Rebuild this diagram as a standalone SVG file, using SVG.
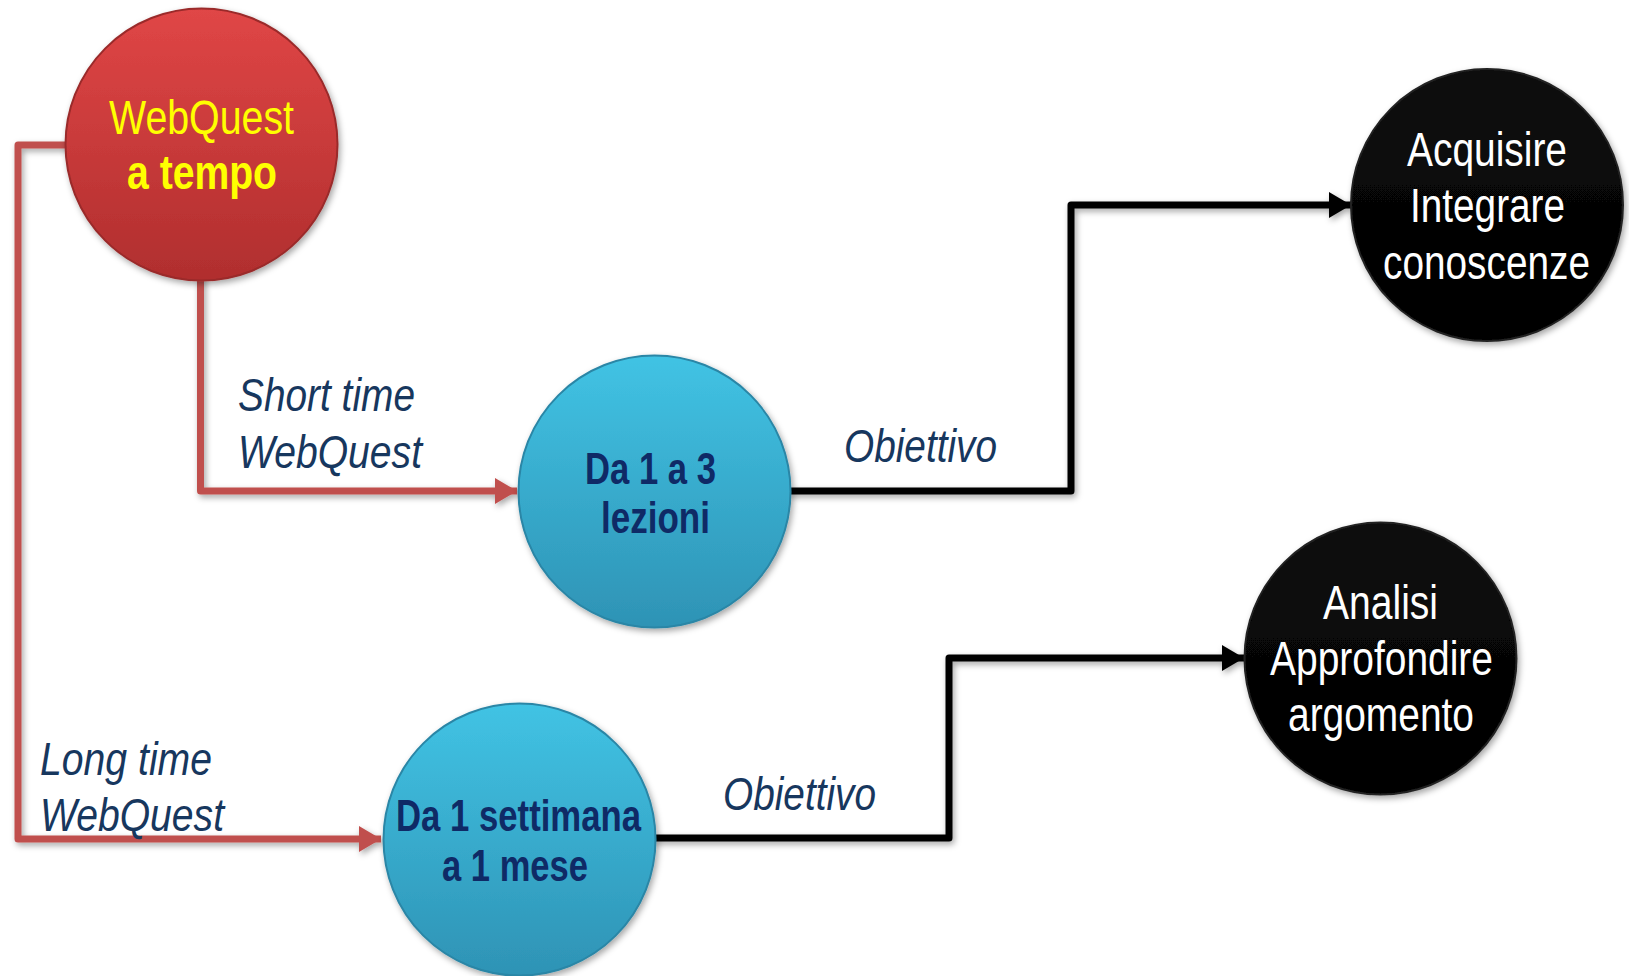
<svg xmlns="http://www.w3.org/2000/svg" width="1629" height="976" viewBox="0 0 1629 976">
<style>
.lbl{font-family:"Liberation Sans Narrow","Liberation Sans",Arial,sans-serif;font-style:italic;font-size:47px;fill:#17375e}
.nt{font-family:"Liberation Sans Narrow","Liberation Sans",Arial,sans-serif;text-anchor:start}
.cy{font-weight:bold;font-size:44px;fill:#0f2a66}
.wh{font-size:48px;fill:#ffffff}
.ye{font-size:48px;fill:#ffff00}
.red{fill:none;stroke:#c0504d;stroke-width:7;stroke-linejoin:round}
.blk{fill:none;stroke:#000;stroke-width:7;stroke-linejoin:round}
</style>
<defs>
<linearGradient id="gRed" x1="0" y1="0" x2="0" y2="1">
<stop offset="0" stop-color="#e04646"/><stop offset="1" stop-color="#b02e2e"/>
</linearGradient>
<linearGradient id="gCyan" x1="0" y1="0" x2="0" y2="1">
<stop offset="0" stop-color="#41c3e4"/><stop offset="1" stop-color="#2e93b5"/>
</linearGradient>
<linearGradient id="gBlack" x1="0" y1="0" x2="0" y2="1">
<stop offset="0" stop-color="#0c0c0c"/><stop offset="1" stop-color="#000"/>
</linearGradient>
<filter id="sh" x="-20%" y="-20%" width="140%" height="140%">
<feDropShadow dx="2" dy="3" stdDeviation="3" flood-color="#000" flood-opacity="0.35"/>
</filter>
<marker id="aRed" markerUnits="userSpaceOnUse" markerWidth="24" markerHeight="26" refX="22" refY="13" orient="auto">
<path d="M0,0 L22,13 L0,26 Z" fill="#c0504d"/>
</marker>
<marker id="aBlk" markerUnits="userSpaceOnUse" markerWidth="24" markerHeight="26" refX="22" refY="13" orient="auto">
<path d="M0,0 L22,13 L0,26 Z" fill="#000"/>
</marker>
</defs>
<rect width="1629" height="976" fill="#fff"/>
<g id="connectors" filter="url(#sh)">
<path class="red" d="M70,145 H18 V839 H381" marker-end="url(#aRed)"/>
<path class="red" d="M200.5,275 V491 H517" marker-end="url(#aRed)"/>
<path class="blk" d="M788,491 H1071 V205 H1351" marker-end="url(#aBlk)"/>
<path class="blk" d="M653,838 H949 V658 H1244" marker-end="url(#aBlk)"/>
</g>
<g id="labels">
<text class="lbl" x="238" y="411" textLength="177" lengthAdjust="spacingAndGlyphs">Short time</text>
<text class="lbl" x="238" y="468" textLength="184" lengthAdjust="spacingAndGlyphs">WebQuest</text>
<text class="lbl" x="844" y="462" textLength="153" lengthAdjust="spacingAndGlyphs">Obiettivo</text>
<text class="lbl" x="40" y="775" textLength="172" lengthAdjust="spacingAndGlyphs">Long time</text>
<text class="lbl" x="40" y="831" textLength="184" lengthAdjust="spacingAndGlyphs">WebQuest</text>
<text class="lbl" x="723" y="810" textLength="153" lengthAdjust="spacingAndGlyphs">Obiettivo</text>
</g>
<g id="node-webquest">
<circle cx="201.5" cy="144.5" r="136" fill="url(#gRed)" stroke="#9a2a2a" stroke-width="2" filter="url(#sh)"/>
<text class="nt ye" x="109" y="134" textLength="185" lengthAdjust="spacingAndGlyphs">WebQuest</text>
<text class="nt ye" x="127" y="189" font-weight="bold" textLength="150" lengthAdjust="spacingAndGlyphs">a tempo</text>
</g>
<g id="node-short">
<circle cx="654.5" cy="491.5" r="136" fill="url(#gCyan)" stroke="#2a86a6" stroke-width="2" filter="url(#sh)"/>
<text class="nt cy" x="585" y="484" textLength="131" lengthAdjust="spacingAndGlyphs">Da 1 a 3</text>
<text class="nt cy" x="601" y="533" textLength="109" lengthAdjust="spacingAndGlyphs">lezioni</text>
</g>
<g id="node-long">
<circle cx="519.5" cy="839.5" r="136" fill="url(#gCyan)" stroke="#2a86a6" stroke-width="2" filter="url(#sh)"/>
<text class="nt cy" x="396" y="831" textLength="245" lengthAdjust="spacingAndGlyphs">Da 1 settimana</text>
<text class="nt cy" x="442" y="881" textLength="146" lengthAdjust="spacingAndGlyphs">a 1 mese</text>
</g>
<g id="node-acquisire">
<circle cx="1487" cy="205" r="136" fill="url(#gBlack)" stroke="#222" stroke-width="2" filter="url(#sh)"/>
<text class="nt wh" x="1407" y="166" textLength="160" lengthAdjust="spacingAndGlyphs">Acquisire</text>
<text class="nt wh" x="1410" y="222" textLength="155" lengthAdjust="spacingAndGlyphs">Integrare</text>
<text class="nt wh" x="1383" y="279" textLength="207" lengthAdjust="spacingAndGlyphs">conoscenze</text>
</g>
<g id="node-analisi">
<circle cx="1380.5" cy="658.5" r="136" fill="url(#gBlack)" stroke="#222" stroke-width="2" filter="url(#sh)"/>
<text class="nt wh" x="1323" y="619" textLength="115" lengthAdjust="spacingAndGlyphs">Analisi</text>
<text class="nt wh" x="1270" y="675" textLength="223" lengthAdjust="spacingAndGlyphs">Approfondire</text>
<text class="nt wh" x="1288" y="731" textLength="186" lengthAdjust="spacingAndGlyphs">argomento</text>
</g>
</svg>
